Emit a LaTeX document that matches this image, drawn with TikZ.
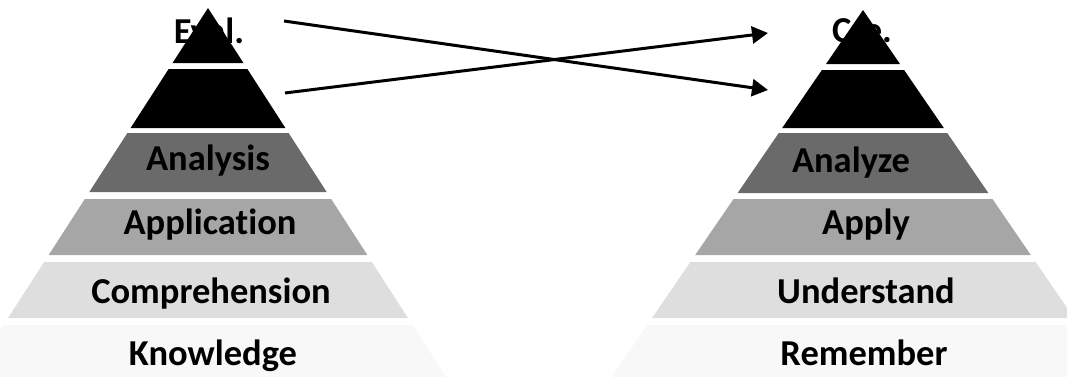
\documentclass[tikz,border=0pt]{standalone}
\usepackage{fontspec}
\setmainfont[Ligatures=NoCommon]{Carlito}
\usetikzlibrary{arrows.meta}
\definecolor{lvC}{HTML}{6A6A6A}
\definecolor{lvD}{HTML}{A6A6A6}
\definecolor{lvE}{HTML}{DEDEDE}
\definecolor{lvF}{HTML}{F8F8F8}
\tikzset{
  lbl/.style={font=\fontsize{36.5}{42}\selectfont\bfseries, text=black, inner sep=0pt, anchor=base},
  conn/.style={line width=3pt, -{Triangle[length=16pt,width=17pt]}}
}
\begin{document}
\begin{tikzpicture}[x=1pt,y=-1pt]
\useasboundingbox (0,0) rectangle (1067,376);
\clip (0,0) rectangle (1067,376);
% left pyramid: apex (208,8), slope 0.645
\foreach \t/\b/\c in {8/63/black,69/128/black,133/192/lvC,199/255/lvD,262/318/lvE,325/390/lvF}{
  \fill[\c] ({208-0.645*(\t-8)},\t) -- ({208+0.645*(\t-8)},\t) -- ({208+0.645*(\b-8)},\b) -- ({208-0.645*(\b-8)},\b) -- cycle;
}
% right pyramid: apex (863,10), slope 0.685
\foreach \t/\b/\c in {10/64/black,70/128/black,133/193/lvC,199/255/lvD,262/318/lvE,325/390/lvF}{
  \fill[\c] ({863-0.685*(\t-10)},\t) -- ({863+0.685*(\t-10)},\t) -- ({863+0.685*(\b-10)},\b) -- ({863-0.685*(\b-10)},\b) -- cycle;
}
% labels left
\node[lbl] (eval) at (209,43) {Eval.};
\node[lbl] (analysis) at (208,170) {Analysis};
\node[lbl] (application) at (210,234) {Application};
\node[lbl] (comprehension) at (211,303) {Comprehension};
\node[lbl] (knowledge) at (213,365) {Knowledge};
% labels right
\node[lbl] (cre) at (862,42) {Cre.};
\node[lbl] (analyze) at (851,172) {Analyze};
\node[lbl] (apply) at (866,234) {Apply};
\node[lbl] (understand) at (866,303) {Understand};
\node[lbl] (remember) at (864,365) {Remember};
% connectors
\coordinate (s1) at (284,21);
\coordinate (t1) at (768,90);
\coordinate (s2) at (285,93);
\coordinate (t2) at (768,33);
\draw[conn] (s1) -- (t1);
\draw[conn] (s2) -- (t2);
\end{tikzpicture}
\end{document}
